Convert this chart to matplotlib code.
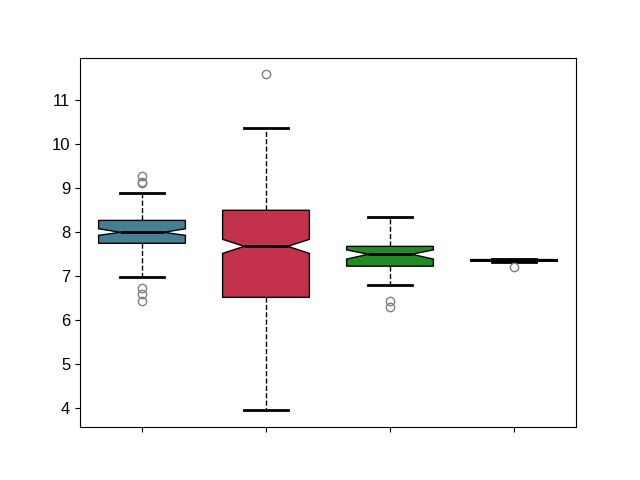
import matplotlib
matplotlib.use('Agg')
import matplotlib.pyplot as plt

plt.rcParams['font.family'] = ['Liberation Sans', 'DejaVu Sans']

# --- dati ---
medians = [8.00, 7.68, 7.50, 7.36]
q1s = [7.75, 6.52, 7.23, 7.34]
q3s = [8.27, 8.50, 7.68, 7.38]
whis_lo = [6.98, 3.95, 6.80, 7.33]
whis_hi = [8.89, 10.36, 8.34, 7.39]
ci_lo = [7.93, 7.52, 7.39, 7.35]
ci_hi = [8.08, 7.84, 7.60, 7.37]
fliers = [
    [9.28, 9.15, 9.13, 6.74, 6.60, 6.44],
    [11.59],
    [6.43, 6.30],
    [7.20],
]
colors = ['#457f93', '#c3324a', '#238b23', '#3a5a8c']

stats = []
for i in range(len(medians)):
    stats.append({
        'med': medians[i], 'q1': q1s[i], 'q3': q3s[i],
        'whislo': whis_lo[i], 'whishi': whis_hi[i],
        'cilo': ci_lo[i], 'cihi': ci_hi[i],
        'fliers': fliers[i],
    })

fig, ax = plt.subplots(figsize=(6.4, 4.8), dpi=100)
bp = ax.bxp(stats, shownotches=True, patch_artist=True, widths=0.7,
            medianprops=dict(color='black', linewidth=2),
            whiskerprops=dict(color='black', linestyle='--', linewidth=1),
            capprops=dict(color='black', linewidth=2),
            boxprops=dict(edgecolor='black', linewidth=1),
            flierprops=dict(marker='o', markerfacecolor='none',
                            markeredgecolor='gray', markersize=6))
for patch, col in zip(bp['boxes'], colors):
    patch.set_facecolor(col)

ax.set_xticklabels([])
ax.tick_params(axis='y', labelsize=12)
plt.savefig('out.png', dpi=100)
